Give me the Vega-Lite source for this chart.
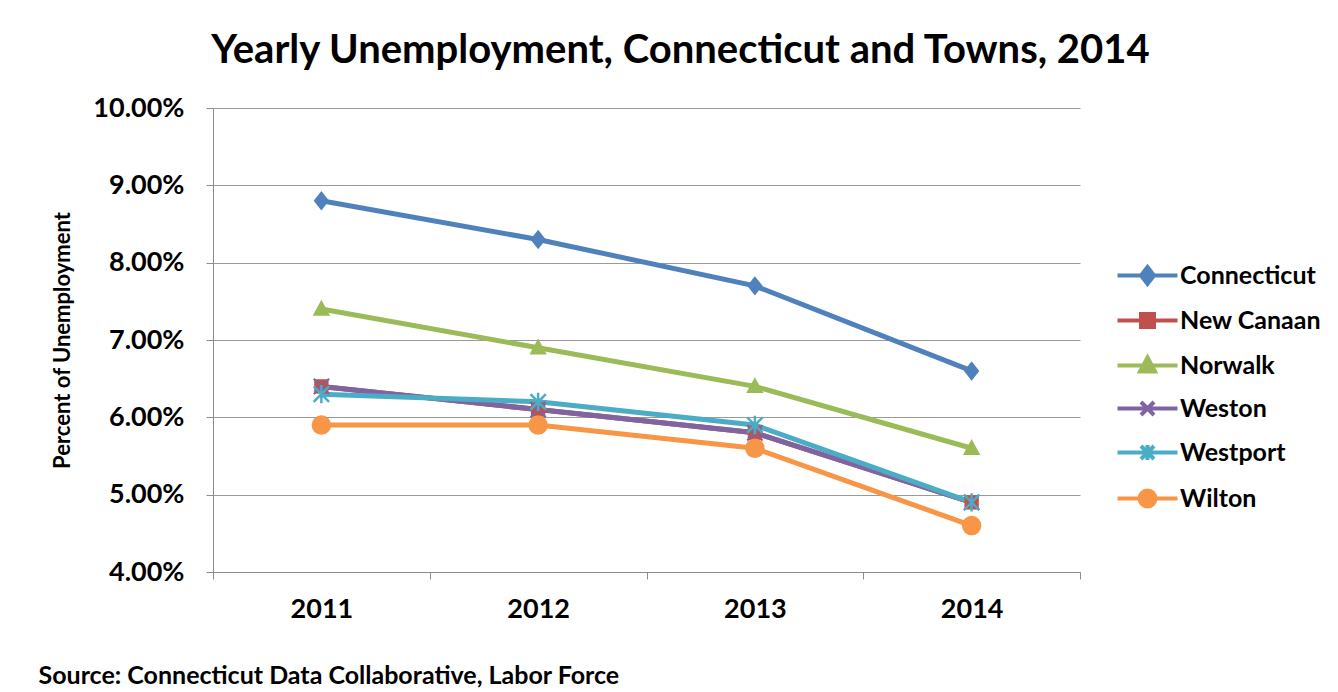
{
  "$schema": "https://vega.github.io/schema/vega-lite/v6.json",
  "width": 867,
  "height": 464,
  "autosize": "none",
  "padding": {"left": 213, "top": 108, "right": 258, "bottom": 120},
  "background": "white",
  "title": {
    "text": "Yearly Unemployment, Connecticut and Towns, 2014",
    "font": "Lato",
    "fontSize": 40,
    "fontWeight": "bold",
    "color": "black",
    "anchor": "middle",
    "dx": 34,
    "offset": 23
  },
  "data": {
    "values": [
      {"series": "Connecticut", "year": "2011", "rate": 0.088},
      {"series": "Connecticut", "year": "2012", "rate": 0.083},
      {"series": "Connecticut", "year": "2013", "rate": 0.077},
      {"series": "Connecticut", "year": "2014", "rate": 0.066},
      {"series": "New Canaan", "year": "2011", "rate": 0.064},
      {"series": "New Canaan", "year": "2012", "rate": 0.061},
      {"series": "New Canaan", "year": "2013", "rate": 0.058},
      {"series": "New Canaan", "year": "2014", "rate": 0.049},
      {"series": "Norwalk", "year": "2011", "rate": 0.074},
      {"series": "Norwalk", "year": "2012", "rate": 0.069},
      {"series": "Norwalk", "year": "2013", "rate": 0.064},
      {"series": "Norwalk", "year": "2014", "rate": 0.056},
      {"series": "Weston", "year": "2011", "rate": 0.064},
      {"series": "Weston", "year": "2012", "rate": 0.061},
      {"series": "Weston", "year": "2013", "rate": 0.058},
      {"series": "Weston", "year": "2014", "rate": 0.049},
      {"series": "Westport", "year": "2011", "rate": 0.063},
      {"series": "Westport", "year": "2012", "rate": 0.062},
      {"series": "Westport", "year": "2013", "rate": 0.059},
      {"series": "Westport", "year": "2014", "rate": 0.049},
      {"series": "Wilton", "year": "2011", "rate": 0.059},
      {"series": "Wilton", "year": "2012", "rate": 0.059},
      {"series": "Wilton", "year": "2013", "rate": 0.056},
      {"series": "Wilton", "year": "2014", "rate": 0.046}
    ]
  },
  "encoding": {
    "x": {
      "field": "year",
      "type": "ordinal",
      "bandPosition": 0.5,
      "scale": {"type": "band", "paddingInner": 0, "paddingOuter": 0},
      "axis": {
        "labelAngle": 0,
        "labelFont": "Lato",
        "labelFontSize": 27,
        "labelFontWeight": "bold",
        "labelColor": "black",
        "labelPadding": 17,
        "tickBand": "extent",
        "tickSize": 7,
        "tickColor": "#8c8c8c",
        "domainColor": "#8c8c8c",
        "grid": false,
        "title": "Source: Connecticut Data Collaborative, Labor Force",
        "titleFont": "Lato",
        "titleFontSize": 25,
        "titleFontWeight": "bold",
        "titleColor": "black",
        "titleAnchor": "start",
        "titleAlign": "left",
        "titleX": -175,
        "titleY": 103,
        "titleBaseline": "middle"
      }
    },
    "y": {
      "field": "rate",
      "type": "quantitative",
      "scale": {"domain": [0.04, 0.1], "nice": false, "zero": false},
      "axis": {
        "values": [0.04, 0.05, 0.06, 0.07, 0.08, 0.09, 0.1],
        "format": ".2%",
        "labelFont": "Lato",
        "labelFontSize": 27,
        "labelFontWeight": "bold",
        "labelColor": "black",
        "labelPadding": 22,
        "tickSize": 7,
        "tickColor": "#8c8c8c",
        "domainColor": "#8c8c8c",
        "grid": true,
        "gridColor": "#9a9a9a",
        "title": "Percent of Unemployment",
        "titleFont": "Lato",
        "titleFontSize": 22,
        "titleFontWeight": "bold",
        "titleColor": "black",
        "titlePadding": 18
      }
    },
    "color": {
      "field": "series",
      "type": "nominal",
      "scale": {
        "domain": ["Connecticut", "New Canaan", "Norwalk", "Weston", "Westport", "Wilton"],
        "range": ["#4F81BD", "#C0504D", "#9BBB59", "#8064A2", "#4BACC6", "#F79646"]
      },
      "legend": null
    }
  },
  "layer": [
    {
      "mark": {"type": "line", "strokeWidth": 5},
      "encoding": {
        "color": {
          "field": "series",
          "type": "nominal",
          "scale": {
            "domain": ["Connecticut", "New Canaan", "Norwalk", "Weston", "Westport", "Wilton"],
            "range": ["#4F81BD", "#C0504D", "#9BBB59", "#8064A2", "#4BACC6", "#F79646"]
          },
          "legend": {
            "orient": "none",
            "legendX": 922,
            "legendY": 155,
            "title": null,
            "symbolSize": 400,
            "symbolType": "M-3,0L3,0",
            "labelOffset": 20,
            "rowPadding": 14,
            "labelFont": "Lato",
            "labelFontSize": 25,
            "labelFontWeight": "bold",
            "labelColor": "black",
            "encode": {
              "symbols": {
                "update": {
                  "shape": {"signal": "datum.value === 'Connecticut' ? 'M-3,0L3,0M0,-0.85L0.65,0L0,0.85L-0.65,0Z' : datum.value === 'New Canaan' ? 'M-3,0L3,0M-0.65,-0.65L0.65,-0.65L0.65,0.65L-0.65,0.65Z' : datum.value === 'Norwalk' ? 'M-3,0L3,0M0,-0.8L0.75,0.6L-0.75,0.6Z' : datum.value === 'Weston' ? 'M-3,0L3,0M-0.65,-0.65L0.65,0.65M-0.65,0.65L0.65,-0.65' : datum.value === 'Westport' ? 'M-3,0L3,0M-0.65,-0.65L0.65,0.65M-0.65,0.65L0.65,-0.65M0,-0.75L0,0.75' : 'M-3,0L3,0M0.8,0A0.8,0.8 0 1,1 -0.8,0A0.8,0.8 0 1,1 0.8,0Z'"},
                  "stroke": {"scale": "color", "field": "value"},
                  "fill": {"scale": "color", "field": "value"},
                  "strokeWidth": {"value": 4},
                  "opacity": {"value": 1}
                }
              }
            }
          }
        }
      }
    },
    {
      "transform": [{"filter": "datum.series === 'Connecticut'"}],
      "mark": {"type": "point", "filled": true, "opacity": 1, "size": 420, "shape": "M0,-0.95L0.75,0L0,0.95L-0.75,0Z"}
    },
    {
      "transform": [{"filter": "datum.series === 'New Canaan'"}],
      "mark": {"type": "point", "filled": true, "opacity": 1, "size": 420, "shape": "M-0.7,-0.7L0.7,-0.7L0.7,0.7L-0.7,0.7Z"}
    },
    {
      "transform": [{"filter": "datum.series === 'Norwalk'"}],
      "mark": {"type": "point", "filled": true, "opacity": 1, "size": 420, "shape": "M0,-0.9L0.85,0.65L-0.85,0.65Z"}
    },
    {
      "transform": [{"filter": "datum.series === 'Weston'"}],
      "mark": {"type": "point", "filled": false, "opacity": 1, "size": 420, "strokeWidth": 2, "shape": "M-0.75,-0.75L0.75,0.75M-0.75,0.75L0.75,-0.75"}
    },
    {
      "transform": [{"filter": "datum.series === 'Westport'"}],
      "mark": {"type": "point", "filled": false, "opacity": 1, "size": 420, "strokeWidth": 2.5, "shape": "M-0.75,-0.75L0.75,0.75M-0.75,0.75L0.75,-0.75M0,-0.9L0,0.9"}
    },
    {
      "transform": [{"filter": "datum.series === 'Wilton'"}],
      "mark": {"type": "point", "filled": true, "opacity": 1, "size": 380, "shape": "circle"}
    }
  ],
  "config": {
    "view": {"stroke": null}
  }
}
